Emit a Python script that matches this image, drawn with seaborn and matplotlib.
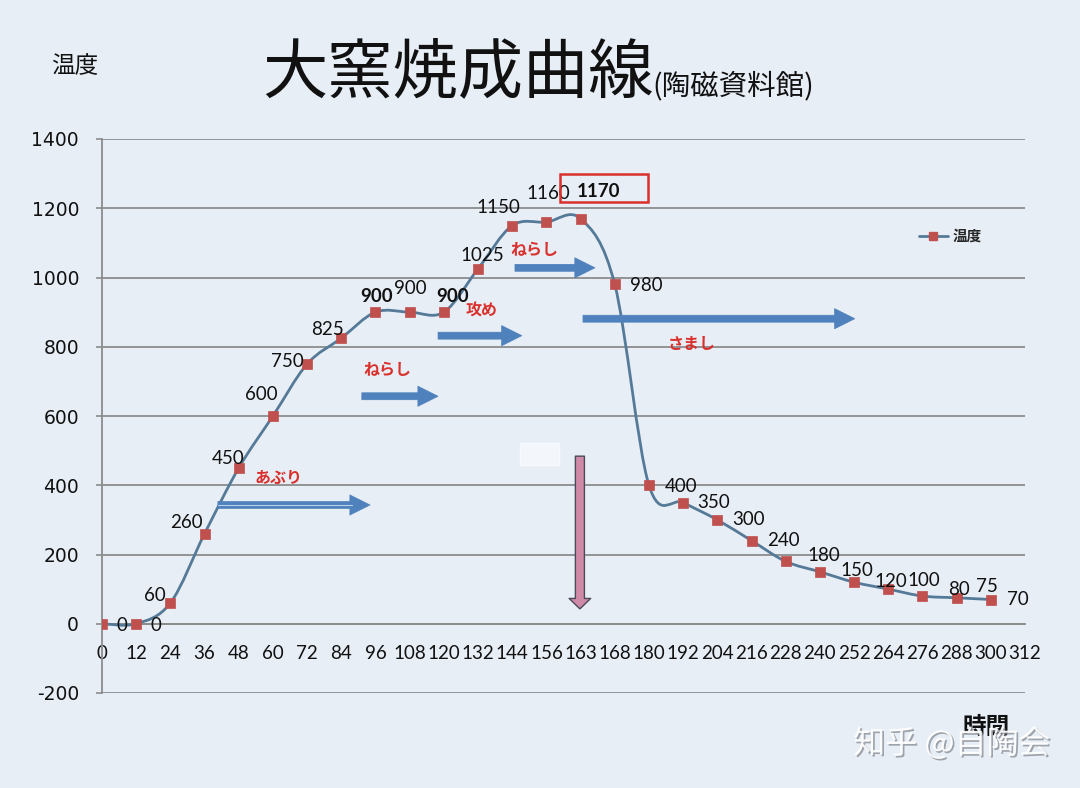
import numpy as np
import pandas as pd
import matplotlib
matplotlib.use("Agg")
import matplotlib.pyplot as plt
import seaborn as sns
from matplotlib.path import Path
from matplotlib.patches import PathPatch, Rectangle
from matplotlib.lines import Line2D
import matplotlib.patheffects as pe

# ---------------- data ----------------
time_labels = ["0", "12", "24", "36", "48", "60", "72", "84", "96", "108", "120",
               "132", "144", "156", "163", "168", "180", "192", "204", "216",
               "228", "240", "252", "264", "276", "288", "300", "312"]
temps = [0, 0, 60, 260, 450, 600, 750, 825, 900, 900, 900, 1025, 1150, 1160,
         1170, 980, 400, 350, 300, 240, 180, 150, 120, 100, 80, 75, 70]
y_ticks = [-200, 0, 200, 400, 600, 800, 1000, 1200, 1400]
stage_names = ["あぶり", "ねらし", "攻め", "ねらし", "さまし"]
series_name = "温度"
title_main = "大窯焼成曲線"
title_sub = "(陶磁資料館)"
x_name = "時間"

# ---------------- styles ----------------
BG = "#e8eef6"
GRID = "#8c8c8c"
LINE = "#557a98"
MARK = "#c0504d"
RED = "#d9302c"
BLUE = "#4f81bd"
CJK = "Noto Sans CJK JP"
NUM = "Lato"

# label offsets in pixels (dx right, dy down) and bold flags
lab_off = [(20, 2), (20, 2), (-15, -7), (-18, -11), (-11, -9), (-12, -21),
           (-20, -3), (-14, -9), (1, -16), (1, -24), (9, -16), (4, -13),
           (-14, -18), (2, -29), (18, -27), (32, 1), (32, 1), (30, 0),
           (31, 0), (32, 0), (38, -6), (37, -1), (37, -1), (36, -9),
           (37, -7), (30, -11), (27, 0)]
bold_idx = {8, 10, 14}

sns.set_theme(style="white")
plt.rcParams["font.family"] = [NUM, CJK, "DejaVu Sans"]

fig = plt.figure(figsize=(10.8, 7.88), dpi=100, facecolor=BG)
ax = fig.add_axes([102 / 1080, 1 - 693 / 788, 923 / 1080, 554 / 788])
ax.set_facecolor("none")

df = pd.DataFrame({"pos": np.arange(len(temps)), "temp": temps})

# smoothed line (Catmull-Rom -> cubic Bezier through the data points)
P = df[["pos", "temp"]].to_numpy(dtype=float)
Pext = np.vstack([P[0], P, P[-1]])
verts = [tuple(P[0])]
codes = [Path.MOVETO]
for i in range(len(P) - 1):
    p_prev, p0, p1, p_next = Pext[i], Pext[i + 1], Pext[i + 2], Pext[i + 3]
    c1 = p0 + (p1 - p_prev) / 6.0
    c2 = p1 - (p_next - p0) / 6.0
    verts += [tuple(c1), tuple(c2), tuple(p1)]
    codes += [Path.CURVE4] * 3
ax.add_patch(PathPatch(Path(verts, codes), fill=False, ec=LINE, lw=2.0, zorder=3))

sns.scatterplot(data=df, x="pos", y="temp", marker="s", s=45, color=MARK,
                edgecolor=MARK, linewidth=0.5, zorder=4, ax=ax, legend=False)

# data labels
for i, (x, y) in enumerate(zip(df["pos"], df["temp"])):
    dx, dy = lab_off[i]
    ax.annotate(str(y), (x, y), xytext=(dx * 0.72, -dy * 0.72),
                textcoords="offset points", ha="center", va="center",
                fontsize=13.5,
                fontweight="bold" if i in bold_idx else "normal",
                family=NUM, color="#111111", zorder=5)

# highlight box around the peak label
ax.add_patch(Rectangle((13.40, 1218), 2.57, 81, fill=False, ec=RED, lw=1.8, zorder=5))

# axes styling
ax.set_xlim(0, len(time_labels) - 1)
ax.set_ylim(-200, 1400)
ax.set_xticks(range(len(time_labels)))
ax.set_yticks(y_ticks)
ax.set_xlabel("")
ax.set_ylabel("")
ax.yaxis.grid(True, color=GRID, lw=1.3, zorder=1)
ax.xaxis.grid(False)
for s in ["top", "right"]:
    ax.spines[s].set_visible(False)
ax.spines["left"].set_color(GRID)
ax.spines["left"].set_linewidth(1.3)
ax.spines["bottom"].set_position(("data", 0))
ax.spines["bottom"].set_color(GRID)
ax.spines["bottom"].set_linewidth(1.3)
ax.tick_params(axis="x", direction="inout", length=9, width=1.2, color=GRID,
               pad=11, labelcolor="#111111", labelsize=13.5)
ax.tick_params(axis="y", direction="out", length=4.5, width=1.2, color=GRID,
               pad=12, labelcolor="#111111", left=True, labelsize=13.5)
ax.set_xticklabels(time_labels, family=NUM, fontsize=13.5)
ax.set_yticklabels([str(v) for v in y_ticks], family="DejaVu Sans", fontsize=13.5)

# stage annotations (text + arrows) in data coordinates
stage_text_pos = [(5.15, 420), (8.34, 734), (11.11, 904), (12.66, 1080), (17.26, 809)]
stage_arrows = [((3.39, 343), (7.84, 343)), ((7.60, 657), (9.83, 657)),
                ((9.83, 832), (12.28, 832)), ((12.08, 1028), (14.42, 1028)),
                ((14.07, 881), (22.02, 881))]
for name, (tx, ty), (a0, a1) in zip(stage_names, stage_text_pos, stage_arrows):
    ax.text(tx, ty, name, family=CJK, fontsize=11.5, fontweight="bold", color=RED,
            ha="center", va="center", zorder=6)
    ax.annotate("", xy=a1, xytext=a0, zorder=6,
                arrowprops=dict(arrowstyle="simple,head_length=1.45,head_width=1.45,tail_width=0.5",
                                mutation_scale=10, fc=BLUE, ec=BLUE, lw=0.5,
                                shrinkA=0, shrinkB=0))
# light stripe in the first arrow shaft
ax.plot([3.39, 7.3], [343, 343], color="#b9d0ea", lw=0.8, zorder=7)

# cooling arrow (pink, downward)
ax.annotate("", xy=(13.98, 43), xytext=(13.98, 484), zorder=6,
            arrowprops=dict(arrowstyle="simple,head_length=0.75,head_width=1.55,tail_width=0.65",
                            mutation_scale=10, fc="#cf8aa8", ec="#4a4a58", lw=1.0,
                            shrinkA=0, shrinkB=0))
ax.add_patch(Rectangle((12.23, 458), 1.14, 63, fc="#f3f6fa", ec="#f7f9fc", lw=1, zorder=2))

# legend
handle = Line2D([0], [0], color=LINE, lw=2.0, marker="s", markersize=6,
                markerfacecolor=MARK, markeredgecolor=MARK)
ax.legend([handle], [series_name], loc="center",
          bbox_to_anchor=(950 / 1080, 1 - 236 / 788), bbox_transform=fig.transFigure,
          frameon=False, handlelength=2.0, handletextpad=0.3,
          prop=dict(family=CJK, size=10.5, weight="bold"))

# titles and axis names
fig.text(262 / 1080, 1 - 74 / 788, title_main, family=CJK, fontsize=47,
         fontweight="normal", ha="left", va="center", color="#111111")
fig.text(652 / 1080, 1 - 86 / 788, title_sub, family=CJK, fontsize=20.5,
         ha="left", va="center", color="#111111")
fig.text(75 / 1080, 1 - 67 / 788, series_name, family=CJK, fontsize=17,
         ha="center", va="center", color="#111111")
fig.text(986 / 1080, 1 - 727 / 788, x_name, family=CJK, fontsize=17,
         fontweight="bold", ha="center", va="center", color="#111111")

# watermark
fig.text(952 / 1080, 1 - 744 / 788, "知乎 @自陶会", family=CJK, fontsize=23,
         ha="center", va="center", color="white", alpha=0.92,
         path_effects=[pe.SimplePatchShadow(offset=(1.2, -1.2), shadow_rgbFace="#8a8f98", alpha=0.8),
                       pe.Normal()])

fig.savefig("out.png", dpi=100, facecolor=BG)
